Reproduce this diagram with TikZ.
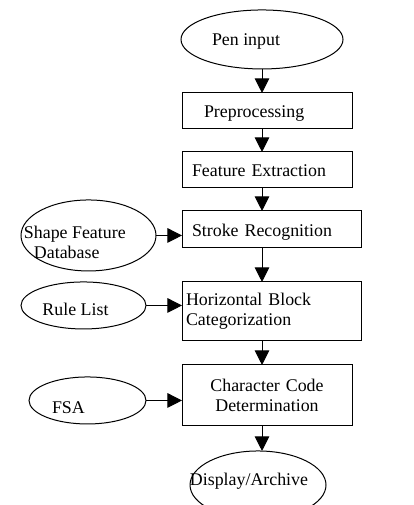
\documentclass[tikz,border=0pt]{standalone}
\usepackage{fontspec}
\setmainfont{Liberation Serif}
\usetikzlibrary{shapes.geometric, arrows.meta, positioning}

\begin{document}
\begin{tikzpicture}[
    node distance = 18pt,
    box/.style = {rectangle, draw, line width=0.75pt, outer sep=0pt, align=left, inner xsep=3pt, text width=121.5pt, minimum height=27pt, font=\fontsize{13.4pt}{15pt}\selectfont},
    widebox/.style = {box, text width=128.25pt},
    ell/.style = {ellipse, draw, line width=0.75pt, outer sep=0pt, inner sep=0pt, font=\fontsize{13.4pt}{15pt}\selectfont},
    arrow/.style = {line width=0.75pt, -{Triangle[width=11pt, length=11pt]}}
]
\useasboundingbox (0,0) rectangle (309.75pt,-378.75pt);

% Define nodes
\node[ell, minimum width=121.5pt, minimum height=44.25pt, text height=9.75pt, text depth=0pt] (pen) at (196.5pt,-29.6pt) {Pen input\hspace*{24pt}};
\node[box, below=18pt of pen, xshift=3.75pt, text height=10.5pt, text depth=0pt] (pre) {\hspace*{13.5pt}Preprocessing};
\node[box, below=17.25pt of pre, text height=10.5pt, text depth=0pt] (feat) {\hspace*{4.5pt}Feature Extraction};
\node[widebox, minimum height=27.75pt, below=17.25pt of feat.south west, anchor=north west, text height=10.5pt, text depth=0pt] (stroke) {\hspace*{4.5pt}Stroke Recognition};
\node[widebox, minimum height=44.25pt, below=25.5pt of stroke] (horiz) {Horizontal Block\\Categorization};
\node[box, align=center, minimum height=45.75pt, below=18pt of horiz.south west, anchor=north west] (char) {Character Code\\Determination};
\node[ell, minimum width=102pt, minimum height=51pt, inner xsep=-16pt, text height=9pt, text depth=8pt, below=18.75pt of char, xshift=-6.75pt] (disp) {Display/Archive\hspace*{13.5pt}};
\node[ell, align=left, minimum width=101.25pt, minimum height=53.25pt, inner xsep=-13pt, text height=34.2pt, text depth=0pt, left=19.5pt of stroke, yshift=-4.5pt] (sfd) {Shape Feature\hspace*{20.5pt}\\\hspace*{7.5pt}Database};
\node[ell, minimum width=93.75pt, minimum height=35.25pt, text height=15.75pt, text depth=0pt, left=27pt of horiz, yshift=4.5pt] (rule) {Rule List\hspace*{12pt}};
\node[ell, minimum width=87.75pt, minimum height=35.25pt, text height=19.2pt, text depth=0pt, left=27pt of char, yshift=-3.75pt] (fsa) {FSA\hspace*{28.65pt}};

% Draw arrows
\draw[arrow] (pen) -- (pre.north -| pen);
\draw[arrow] (pre.south -| pen) -- (feat.north -| pen);
\draw[arrow] (feat.south -| pen) -- (stroke.north -| pen);
\draw[arrow] (stroke.south -| pen) -- (horiz.north -| pen);
\draw[arrow] (horiz.south -| pen) -- (char.north -| pen);
\draw[arrow] (char.south -| pen) -- (disp.north -| pen);
\draw[arrow] (sfd) -- (sfd -| stroke.west);
\draw[arrow] (rule) -- (rule -| horiz.west);
\draw[arrow] (fsa) -- (fsa -| char.west);

\end{tikzpicture}
\end{document}
